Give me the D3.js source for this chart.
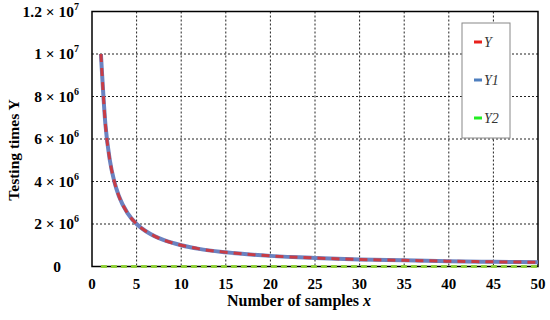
<!DOCTYPE html>
<html>
<head>
<meta charset="utf-8">
<script src="https://cdn.jsdelivr.net/npm/d3@7"></script>
<style>
  body { margin: 0; background: #fff; }
  svg { display: block; }
  svg text { font-family: "Liberation Serif", "Times New Roman", serif; }
</style>
</head>
<body>
<svg id="chart"></svg>
<script>
// values
const xs = [1, 1.5, 2, 2.5, 3, 4, 5, 6, 7, 8, 10, 12, 15, 20, 25, 30, 35, 40, 45, 50];
const yVals = [1.0e7, 6.7e6, 5.0e6, 4.0e6, 3.33e6, 2.5e6, 2.0e6, 1.67e6, 1.43e6, 1.25e6, 1.0e6, 8.3e5, 6.7e5, 5.0e5, 4.0e5, 3.3e5, 2.9e5, 2.5e5, 2.2e5, 2.0e5];
const y1Vals = [1.0e7, 6.7e6, 5.0e6, 4.0e6, 3.33e6, 2.5e6, 2.0e6, 1.67e6, 1.43e6, 1.25e6, 1.0e6, 8.3e5, 6.7e5, 5.0e5, 4.0e5, 3.3e5, 2.9e5, 2.5e5, 2.2e5, 2.0e5];
const y2Vals = [0, 0, 0, 0, 0, 0, 0, 0, 0, 0, 0, 0, 0, 0, 0, 0, 0, 0, 0, 0];
const xTicks = [0, 5, 10, 15, 20, 25, 30, 35, 40, 45, 50];
const yTicks = [0, 2e6, 4e6, 6e6, 8e6, 1e7, 1.2e7];
const yTickMant = ["0", "2", "4", "6", "8", "1", "1.2"];
const yTickExp = ["", "6", "6", "6", "6", "7", "7"];
const seriesNames = ["Y", "Y1", "Y2"];

const W = 550, H = 320;
const margin = { top: 11.5, right: 12, bottom: 53.5, left: 92 };
const width = W - margin.left - margin.right;
const height = H - margin.top - margin.bottom;

const svg = d3.select("#chart").attr("width", W).attr("height", H);
const g = svg.append("g").attr("transform", `translate(${margin.left},${margin.top})`);

const x = d3.scaleLinear().domain([0, 50]).range([0, width]);
const y = d3.scaleLinear().domain([0, 1.2e7]).range([height, 0]);

// grid
g.selectAll(".vgrid").data(xTicks.slice(1, -1)).enter().append("line")
  .attr("x1", d => x(d)).attr("x2", d => x(d))
  .attr("y1", 0).attr("y2", height)
  .attr("stroke", "#222").attr("stroke-width", 1).attr("stroke-dasharray", "2,2");
g.selectAll(".hgrid").data(yTicks.slice(1, -1)).enter().append("line")
  .attr("x1", 0).attr("x2", width)
  .attr("y1", d => y(d)).attr("y2", d => y(d))
  .attr("stroke", "#222").attr("stroke-width", 1).attr("stroke-dasharray", "2,2");

// frame
g.append("rect").attr("x", 0).attr("y", 0).attr("width", width).attr("height", height)
  .attr("fill", "none").attr("stroke", "#000").attr("stroke-width", 1.5);

// x tick labels
xTicks.forEach(v => {
  g.append("text")
    .attr("x", x(v)).attr("y", height + 22)
    .attr("text-anchor", "middle")
    .style("font-weight", "bold").style("font-size", "15px").attr("fill", "#000")
    .text(String(v));
});

// y tick labels with exponents
yTicks.forEach((v, i) => {
  const t = g.append("text")
    .attr("y", y(v)).attr("dy", "0.35em")
    .style("font-weight", "bold").style("font-size", "15.5px").attr("fill", "#000");
  if (yTickExp[i] === "") {
    t.attr("x", -35).attr("text-anchor", "middle").text(yTickMant[i]);
  } else {
    t.attr("x", -13).attr("text-anchor", "end");
    t.append("tspan").text(yTickMant[i] + " \u00d7 10");
    t.append("tspan").style("font-size", "10px").attr("dy", -7).text(yTickExp[i]);
  }
});

const line = d3.line()
  .x(d => x(d[0]))
  .y(d => y(d[1]))
  .curve(d3.curveMonotoneX);

// Y2 green dashed along bottom
g.append("path").datum(xs.map((v, i) => [v, y2Vals[i]]))
  .attr("d", line).attr("fill", "none")
  .attr("stroke", "#8fcf3a").attr("stroke-width", 3).attr("stroke-dasharray", "6,4");

// Y1 blue solid
g.append("path").datum(xs.map((v, i) => [v, y1Vals[i]]))
  .attr("d", line).attr("fill", "none")
  .attr("stroke", "#6b82c0").attr("stroke-width", 4);

// Y red dashed
g.append("path").datum(xs.map((v, i) => [v, yVals[i]]))
  .attr("d", line).attr("fill", "none")
  .attr("stroke", "#d83030").attr("stroke-width", 3).attr("stroke-dasharray", "8,6")
  .attr("opacity", 0.85);

// legend
const lg = svg.append("g").attr("transform", "translate(462,23)");
lg.append("rect").attr("width", 48).attr("height", 115)
  .attr("fill", "#fff").attr("stroke", "#888").attr("stroke-width", 1);
const legColors = ["#e8201c", "#4f7fbf", "#22ee22"];
const legY = [19, 57, 95];
seriesNames.forEach((name, i) => {
  lg.append("line").attr("x1", 12).attr("x2", 20)
    .attr("y1", legY[i]).attr("y2", legY[i])
    .attr("stroke", legColors[i]).attr("stroke-width", 3);
  lg.append("text").attr("x", 22).attr("y", legY[i] + 5)
    .style("font-style", "italic").style("font-size", "14px")
    .attr("fill", "#333").text(name);
});

// axis titles
const xt = svg.append("text").attr("x", 299).attr("y", 306).attr("text-anchor", "middle")
  .style("font-weight", "bold").style("font-size", "16px").attr("fill", "#000");
xt.append("tspan").text("Number of samples ");
xt.append("tspan").style("font-style", "italic").text("x");

svg.append("text").attr("transform", "translate(19,150) rotate(-90)")
  .attr("text-anchor", "middle")
  .style("font-weight", "bold").style("font-size", "15.5px").attr("fill", "#000")
  .text("Testing times Y");
</script>
</body>
</html>
